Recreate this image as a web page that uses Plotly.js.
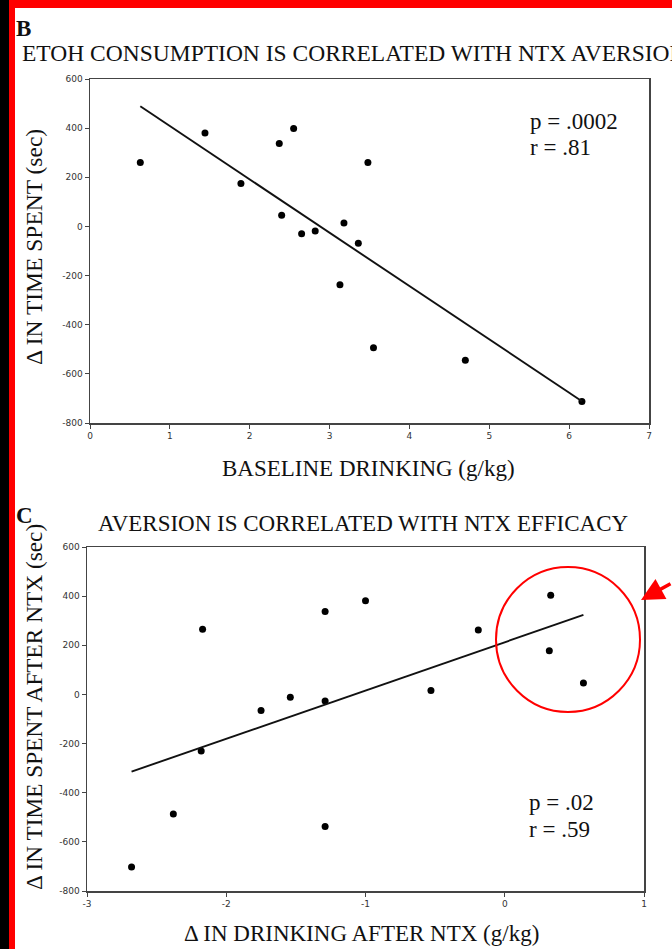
<!DOCTYPE html>
<html>
<head>
<meta charset="utf-8">
<script src="https://cdn.plot.ly/plotly-3.0.1.min.js"></script>
<style>
html,body{margin:0;padding:0;background:#fff;overflow:hidden;}
#chart{width:672px;height:949px;}
</style>
</head>
<body>
<div id="chart"></div>
<script>
// ---- Data ----
// Panel B: baseline drinking vs change in time spent
const baselineDrinking = [0.63, 1.44, 1.89, 2.37, 2.55, 3.48, 2.40, 2.65, 2.82, 3.18, 3.36, 3.13, 3.55, 4.70, 6.16];
const timeSpentB       = [260, 380, 175, 338, 399, 260, 45, -30, -19, 14, -68, -237, -494, -545, -713];

// Panel C: change in drinking after NTX vs change in time spent after NTX
const drinkingChange = [-2.17, -1.75, -1.54, -1.29, -1.29, -1.00, -0.19, -0.53, 0.33, 0.32, 0.565, -2.18, -2.38, -2.68, -1.29];
const timeSpentC     = [265, -65, -11, 337, -27, 381, 262, 16, 404, 178, 47, -230, -487, -702, -537];

// Tick labels
const yTickVals = [-800, -600, -400, -200, 0, 200, 400, 600];
const yTickText = ['-800', '-600', '-400', '-200', '0', '200', '400', '600'];
const xTickValsB = [0, 1, 2, 3, 4, 5, 6, 7];
const xTickTextB = ['0', '1', '2', '3', '4', '5', '6', '7'];
const xTickValsC = [-3, -2, -1, 0, 1];
const xTickTextC = ['-3', '-2', '-1', '0', '1'];

// Text
const panelLabels = ['B', 'C'];
const titleB = 'ETOH CONSUMPTION IS CORRELATED WITH NTX AVERSION';
const titleC = 'AVERSION IS CORRELATED WITH NTX EFFICACY';
const xTitleB = 'BASELINE DRINKING (g/kg)';
const yTitleB = 'Δ IN TIME SPENT (sec)';
const xTitleC = 'Δ IN DRINKING AFTER NTX (g/kg)';
const yTitleC = 'Δ IN TIME SPENT AFTER NTX (sec)';
const statsB = ['p = .0002', 'r = .81'];
const statsC = ['p = .02', 'r = .59'];

// ---- Helpers ----
const W = 672, H = 949;
const px = v => v / W;
const py = v => 1 - v / H;

function fitLine(xs, ys) {
  const n = xs.length;
  const mx = xs.reduce((a, b) => a + b, 0) / n;
  const my = ys.reduce((a, b) => a + b, 0) / n;
  let sxy = 0, sxx = 0;
  for (let i = 0; i < n; i++) { sxy += (xs[i] - mx) * (ys[i] - my); sxx += (xs[i] - mx) ** 2; }
  const m = sxy / sxx, b = my - m * mx;
  const x0 = Math.min(...xs), x1 = Math.max(...xs);
  return { x: [x0, x1], y: [m * x0 + b, m * x1 + b] };
}

const fitB = fitLine(baselineDrinking, timeSpentB);
const fitC = fitLine(drinkingChange, timeSpentC);

const serif = 'Liberation Serif, Times New Roman, serif';
const tickFont = { family: 'DejaVu Sans, Verdana, sans-serif', size: 9, color: '#333' };

const traces = [
  { x: baselineDrinking, y: timeSpentB, type: 'scatter', mode: 'markers',
    marker: { color: '#000', size: 7 }, xaxis: 'x', yaxis: 'y', hoverinfo: 'skip' },
  { x: fitB.x, y: fitB.y, type: 'scatter', mode: 'lines',
    line: { color: '#111', width: 1.9 }, xaxis: 'x', yaxis: 'y', hoverinfo: 'skip' },
  { x: drinkingChange, y: timeSpentC, type: 'scatter', mode: 'markers',
    marker: { color: '#000', size: 7 }, xaxis: 'x2', yaxis: 'y2', hoverinfo: 'skip' },
  { x: fitC.x, y: fitC.y, type: 'scatter', mode: 'lines',
    line: { color: '#111', width: 1.9 }, xaxis: 'x2', yaxis: 'y2', hoverinfo: 'skip' }
];

const axisCommon = {
  showgrid: false, zeroline: false, showline: true, mirror: true,
  linecolor: '#444', linewidth: 1.5, ticks: 'outside', ticklen: 4,
  tickcolor: '#444', tickwidth: 1, tickfont: tickFont, fixedrange: true
};

function ann(text, x, y, opts) {
  return Object.assign({ text: text, x: px(x), y: py(y), xref: 'paper', yref: 'paper',
    showarrow: false, font: { family: serif, size: 23, color: '#111' },
    xanchor: 'center', yanchor: 'middle' }, opts || {});
}

const layout = {
  width: W, height: H,
  margin: { l: 0, r: 0, t: 0, b: 0 },
  paper_bgcolor: '#fff', plot_bgcolor: '#fff',
  showlegend: false,
  xaxis: Object.assign({}, axisCommon, { domain: [px(90), px(649)], range: [0, 7], anchor: 'y',
    tickmode: 'array', tickvals: xTickValsB, ticktext: xTickTextB }),
  yaxis: Object.assign({}, axisCommon, { domain: [py(423), py(79)], range: [-800, 600], anchor: 'x',
    tickmode: 'array', tickvals: yTickVals, ticktext: yTickText }),
  xaxis2: Object.assign({}, axisCommon, { domain: [px(87), px(644)], range: [-3, 1], anchor: 'y2',
    tickmode: 'array', tickvals: xTickValsC, ticktext: xTickTextC }),
  yaxis2: Object.assign({}, axisCommon, { domain: [py(891), py(547)], range: [-800, 600], anchor: 'x2',
    tickmode: 'array', tickvals: yTickVals, ticktext: yTickText }),
  annotations: [
    ann(panelLabels[0], 14, 29, { xanchor: 'left', font: { family: serif, size: 23, color: '#111', weight: 'bold' } }),
    ann(titleB, 20, 53, { xanchor: 'left', font: { family: serif, size: 23.5, color: '#111' } }),
    ann(xTitleB, 368, 468),
    ann(yTitleB, 34, 247, { textangle: -90, font: { family: serif, size: 23.5, color: '#111' } }),
    ann(statsB[0], 528, 121, { xanchor: 'left' }),
    ann(statsB[1], 528, 148, { xanchor: 'left' }),
    ann(panelLabels[1], 14, 515, { xanchor: 'left', font: { family: serif, size: 23, color: '#111', weight: 'bold' } }),
    ann(titleC, 363, 523),
    ann(xTitleC, 361, 933),
    ann(yTitleC, 34, 707, { textangle: -90, font: { family: serif, size: 23.3, color: '#111' } }),
    ann(statsC[0], 527, 802, { xanchor: 'left' }),
    ann(statsC[1], 527, 829, { xanchor: 'left' }),
    { x: px(641), y: py(600), xref: 'paper', yref: 'paper', text: '', showarrow: true,
      ax: 40, ay: -17, arrowcolor: '#f00', arrowwidth: 3.5, arrowhead: 2, arrowsize: 1.3 }
  ],
  shapes: [
    { type: 'circle', xref: 'paper', yref: 'paper', x0: px(496), x1: px(640), y0: py(712), y1: py(567),
      line: { color: '#f00', width: 2 }, layer: 'above' },
    { type: 'rect', xref: 'paper', yref: 'paper', x0: 0, x1: px(9), y0: 0, y1: 1,
      fillcolor: '#000', line: { width: 0 }, layer: 'above' },
    { type: 'rect', xref: 'paper', yref: 'paper', x0: px(9), x1: px(15), y0: 0, y1: 1,
      fillcolor: '#f00', line: { width: 0 }, layer: 'above' },
    { type: 'rect', xref: 'paper', yref: 'paper', x0: px(9), x1: 1, y0: py(8), y1: 1,
      fillcolor: '#f00', line: { width: 0 }, layer: 'above' }
  ]
};

Plotly.newPlot('chart', traces, layout, { staticPlot: true, displayModeBar: false });
</script>
</body>
</html>
